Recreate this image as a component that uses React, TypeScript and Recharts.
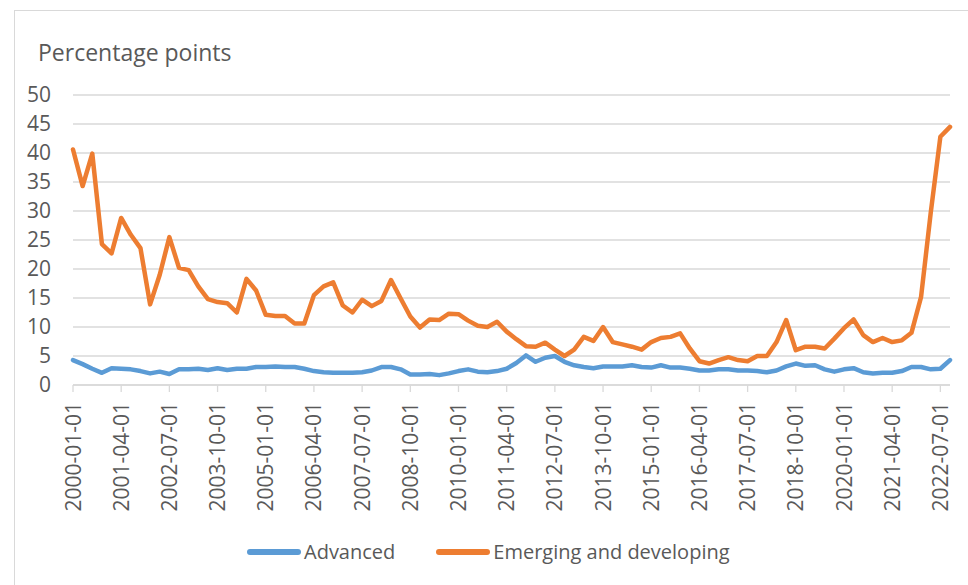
import React from "react";
import { LineChart, Line, XAxis, YAxis, CartesianGrid, Legend } from "recharts";

const years = [
  2000, 2001, 2002, 2003, 2004, 2005, 2006, 2007, 2008, 2009, 2010, 2011,
  2012, 2013, 2014, 2015, 2016, 2017, 2018, 2019, 2020, 2021, 2022,
];
const quarterMonths = ["01", "04", "07", "10"];
const dates = years.flatMap((y) => quarterMonths.map((m) => `${y}-${m}-01`));

const advanced = [
  4.3, 3.6, 2.8, 2.1, 2.9, 2.8, 2.7, 2.4, 2.0, 2.3,
  1.9, 2.7, 2.7, 2.8, 2.6, 2.9, 2.6, 2.8, 2.8, 3.1,
  3.1, 3.2, 3.1, 3.1, 2.8, 2.4, 2.2, 2.1, 2.1, 2.1,
  2.2, 2.5, 3.1, 3.1, 2.7, 1.8, 1.8, 1.9, 1.7, 2.0,
  2.4, 2.7, 2.3, 2.2, 2.4, 2.8, 3.8, 5.1, 4.0, 4.7,
  5.0, 4.0, 3.4, 3.1, 2.9, 3.2, 3.2, 3.2, 3.4, 3.1,
  3.0, 3.4, 3.0, 3.0, 2.8, 2.5, 2.5, 2.7, 2.7, 2.5,
  2.5, 2.4, 2.2, 2.5, 3.2, 3.7, 3.3, 3.4, 2.7, 2.3,
  2.7, 2.9, 2.2, 2.0, 2.1, 2.1, 2.4, 3.1, 3.1, 2.7,
  2.8, 4.3,
];

const emerging = [
  40.6, 34.3, 39.9, 24.3, 22.7, 28.8, 25.9, 23.6, 13.9, 19.0,
  25.5, 20.2, 19.8, 17.0, 14.8, 14.3, 14.1, 12.5, 18.3, 16.3,
  12.1, 11.9, 11.9, 10.6, 10.6, 15.5, 17.0, 17.7, 13.7, 12.5,
  14.7, 13.6, 14.5, 18.1, 14.9, 11.8, 9.9, 11.3, 11.2, 12.3,
  12.2, 11.1, 10.2, 10.0, 10.9, 9.2, 7.9, 6.7, 6.6, 7.3,
  6.1, 5.0, 6.1, 8.3, 7.6, 10.0, 7.4, 7.0, 6.6, 6.1,
  7.4, 8.1, 8.3, 8.9, 6.3, 4.1, 3.7, 4.3, 4.8, 4.3,
  4.1, 5.0, 5.0, 7.4, 11.2, 6.0, 6.6, 6.6, 6.3, 8.0,
  9.8, 11.3, 8.6, 7.4, 8.1, 7.4, 7.7, 9.0, 15.2, 29.7,
  42.8, 44.5,
];

const yTicks = [0, 5, 10, 15, 20, 25, 30, 35, 40, 45, 50];

const data = dates.map((d, i) => ({ date: d, adv: advanced[i], emd: emerging[i] }));

const FONT = "'Open Sans', sans-serif";
const TEXT = "#595959";
const GRID = "#d9d9d9";

function DateTick(props: any) {
  const { x, payload } = props;
  const y = 402;
  return (
    <text
      x={x}
      y={y}
      dy="0.36em"
      transform={`rotate(-90 ${x} ${y})`}
      textAnchor="end"
      fill={TEXT}
      fontSize={21}
      fontFamily={FONT}
    >
      {payload.value}
    </text>
  );
}

function LegendBox({ payload }: any) {
  return (
    <div style={{ display: "flex", alignItems: "center", fontFamily: FONT, fontSize: 20, color: TEXT }}>
      {(payload || []).map((p: any, i: number) => (
        <div key={i} style={{ display: "flex", alignItems: "center", marginRight: 41 }}>
          <span style={{ display: "inline-block", width: 54, height: 6, borderRadius: 3, background: p.color, marginRight: 3 }} />
          <span>{p.value}</span>
        </div>
      ))}
    </div>
  );
}

export default function App() {
  return (
    <div style={{ position: "absolute", left: 0, top: 0, width: 968, height: 585, overflow: "hidden", background: "#fff" }}>
      <div
        style={{
          position: "absolute",
          left: 14,
          top: 10,
          width: 1000,
          height: 700,
          border: `1px solid ${GRID}`,
        }}
      />
      <div
        style={{
          position: "absolute",
          left: 38,
          top: 36,
          fontFamily: FONT,
          fontSize: 23,
          color: TEXT,
          whiteSpace: "nowrap",
        }}
      >
        Percentage points
      </div>
      <div style={{ position: "absolute", left: 0, top: 0 }}>
        <LineChart width={968} height={585} data={data} margin={{ top: 95, right: 18, bottom: 0, left: 0 }}>
          <CartesianGrid vertical={false} stroke={GRID} strokeWidth={1.3} />
          <XAxis
            dataKey="date"
            interval={4}
            height={200}
            tickSize={7}
            stroke={GRID}
            strokeWidth={1.3}
            tick={<DateTick />}
          />
          <YAxis
            domain={[0, 50]}
            ticks={yTicks}
            interval={0}
            width={73}
            axisLine={false}
            tickLine={false}
            tickMargin={16}
            tick={{ fill: TEXT, fontSize: 21, fontFamily: FONT }}
          />
          <Legend
            layout="horizontal"
            verticalAlign="middle"
            align="center"
            content={<LegendBox />}
            wrapperStyle={{ top: 538, left: 247, width: 700 }}
          />
          <Line
            dataKey="adv"
            name="Advanced"
            stroke="#5B9BD5"
            strokeWidth={4.5}
            dot={false}
            activeDot={false}
            strokeLinejoin="round"
            strokeLinecap="round"
            isAnimationActive={false}
          />
          <Line
            dataKey="emd"
            name="Emerging and developing"
            stroke="#ED7D31"
            strokeWidth={4.5}
            dot={false}
            activeDot={false}
            strokeLinejoin="round"
            strokeLinecap="round"
            isAnimationActive={false}
          />
        </LineChart>
      </div>
    </div>
  );
}
